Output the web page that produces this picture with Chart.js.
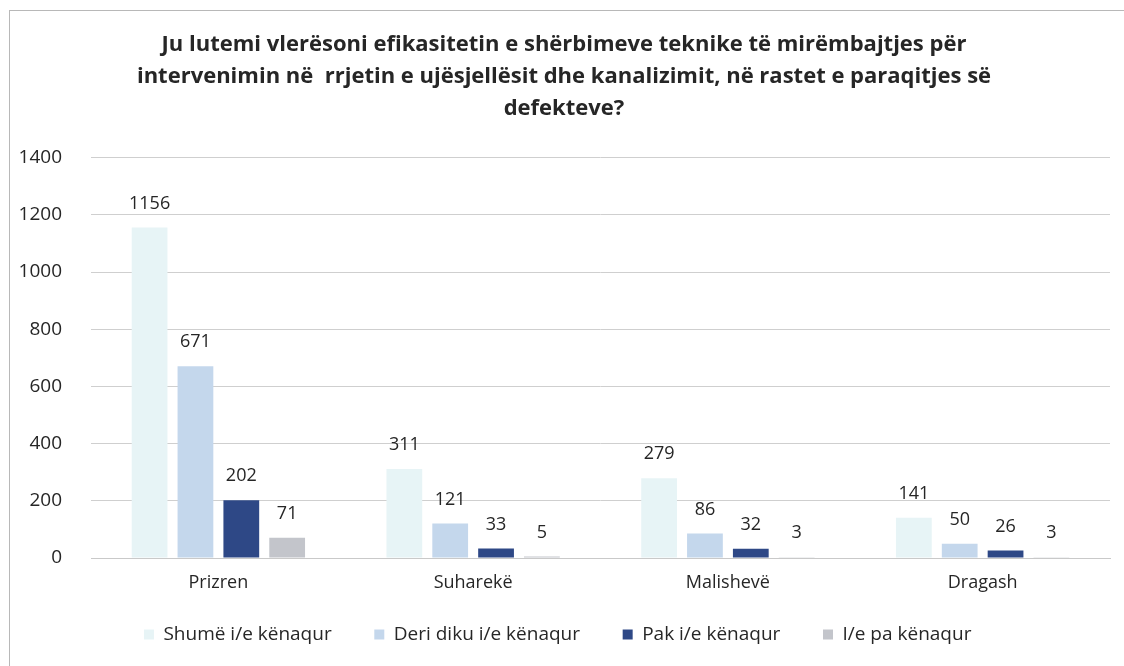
<!DOCTYPE html>
<html>
<head>
<meta charset="utf-8">
<script src="https://cdn.jsdelivr.net/npm/chart.js@4.4.1/dist/chart.umd.min.js"></script>
<style>
  html, body { margin: 0; padding: 0; background: #fff; }
  #wrap { width: 1124px; height: 666px; position: relative; }
</style>
</head>
<body>
<div id="wrap"><canvas id="grafiku"></canvas></div>
<script>
// Të dhënat e grafikut
const komunat = ['Prizren', 'Suharekë', 'Malishevë', 'Dragash'];
const seriaEmrat = ['Shumë i/e kënaqur', 'Deri diku i/e kënaqur', 'Pak i/e kënaqur', 'I/e pa kënaqur'];
const shumeKenaqur = [1156, 311, 279, 141];
const deriDiku = [671, 121, 86, 50];
const pakKenaqur = [202, 33, 32, 26];
const paKenaqur = [71, 5, 3, 3];
const tiketatY = [0, 200, 400, 600, 800, 1000, 1200, 1400];

const ngjyrat = ['#e7f4f6', '#c4d7ec', '#2e4886', '#c3c5cb'];
const vlerat = [shumeKenaqur, deriDiku, pakKenaqur, paKenaqur];

const titulli = [
  'Ju lutemi vlerësoni efikasitetin e shërbimeve teknike të mirëmbajtjes për',
  'intervenimin në  rrjetin e ujësjellësit dhe kanalizimit, në rastet e paraqitjes së',
  'defekteve?'
];

const shkronja = '"Open Sans", "Noto Sans", sans-serif';

// Korniza rreth grafikut
const korniza = {
  id: 'korniza',
  beforeDraw(chart) {
    const c = chart.ctx;
    c.save();
    c.fillStyle = '#fff';
    c.fillRect(0, 0, chart.width, chart.height);
    c.strokeStyle = '#b8b8b8';
    c.lineWidth = 1;
    c.strokeRect(9.5, 10.5, chart.width + 20, chart.height + 20);
    c.restore();
  }
};

// Vlerat mbi shtylla
const etiketat = {
  id: 'etiketat',
  afterDatasetsDraw(chart) {
    const c = chart.ctx;
    c.save();
    c.font = '18px ' + shkronja;
    c.fillStyle = '#262626';
    c.textAlign = 'center';
    c.textBaseline = 'middle';
    chart.data.datasets.forEach((ds, i) => {
      chart.getDatasetMeta(i).data.forEach((bar, j) => {
        c.fillText(ds.data[j], bar.x, bar.y - 24);
      });
    });
    c.restore();
  }
};

const ctx = document.getElementById('grafiku').getContext('2d');
const grafiku = new Chart(ctx, {
  type: 'bar',
  data: {
    labels: komunat,
    datasets: seriaEmrat.map((emri, i) => ({
      label: emri,
      data: vlerat[i],
      backgroundColor: ngjyrat[i],
      borderWidth: 0,
      barPercentage: 0.78,
      categoryPercentage: 0.72
    }))
  },
  options: {
    responsive: true,
    maintainAspectRatio: false,
    animation: false,
    layout: { padding: { left: 18, right: 14, top: 0, bottom: 12 } },
    plugins: {
      title: {
        display: true,
        text: titulli,
        color: '#262626',
        font: { family: shkronja, size: 22, weight: 'bold', lineHeight: 1.45 },
        padding: { top: 29, bottom: 33 }
      },
      legend: {
        position: 'bottom',
        labels: {
          color: '#262626',
          boxWidth: 10,
          boxHeight: 10,
          padding: 30,
          font: { family: shkronja, size: 19 },
          // hapësirë më e madhe ndërmjet elementeve
          generateLabels(chart) {
            return Chart.defaults.plugins.legend.labels.generateLabels(chart)
              .map(l => Object.assign(l, { text: l.text + '\u2002\u2009' }));
          }
        }
      },
      tooltip: { enabled: false }
    },
    scales: {
      x: {
        grid: { display: false },
        border: { color: '#c9c9c9' },
        afterFit(scale) { scale.height = 37; },
        ticks: {
          color: '#262626',
          padding: 6,
          font: { family: shkronja, size: 18 }
        }
      },
      y: {
        min: 0,
        max: 1400,
        afterBuildTicks(scale) {
          scale.ticks = tiketatY.map(v => ({ value: v }));
        },
        afterFit(scale) { scale.width = 73; },
        grid: { color: '#cfcfcf', drawTicks: false },
        border: { display: false },
        ticks: {
          color: '#262626',
          padding: 29,
          callback: v => String(v),
          font: { family: shkronja, size: 19 }
        }
      }
    }
  },
  plugins: [korniza, etiketat]
});
</script>
</body>
</html>
